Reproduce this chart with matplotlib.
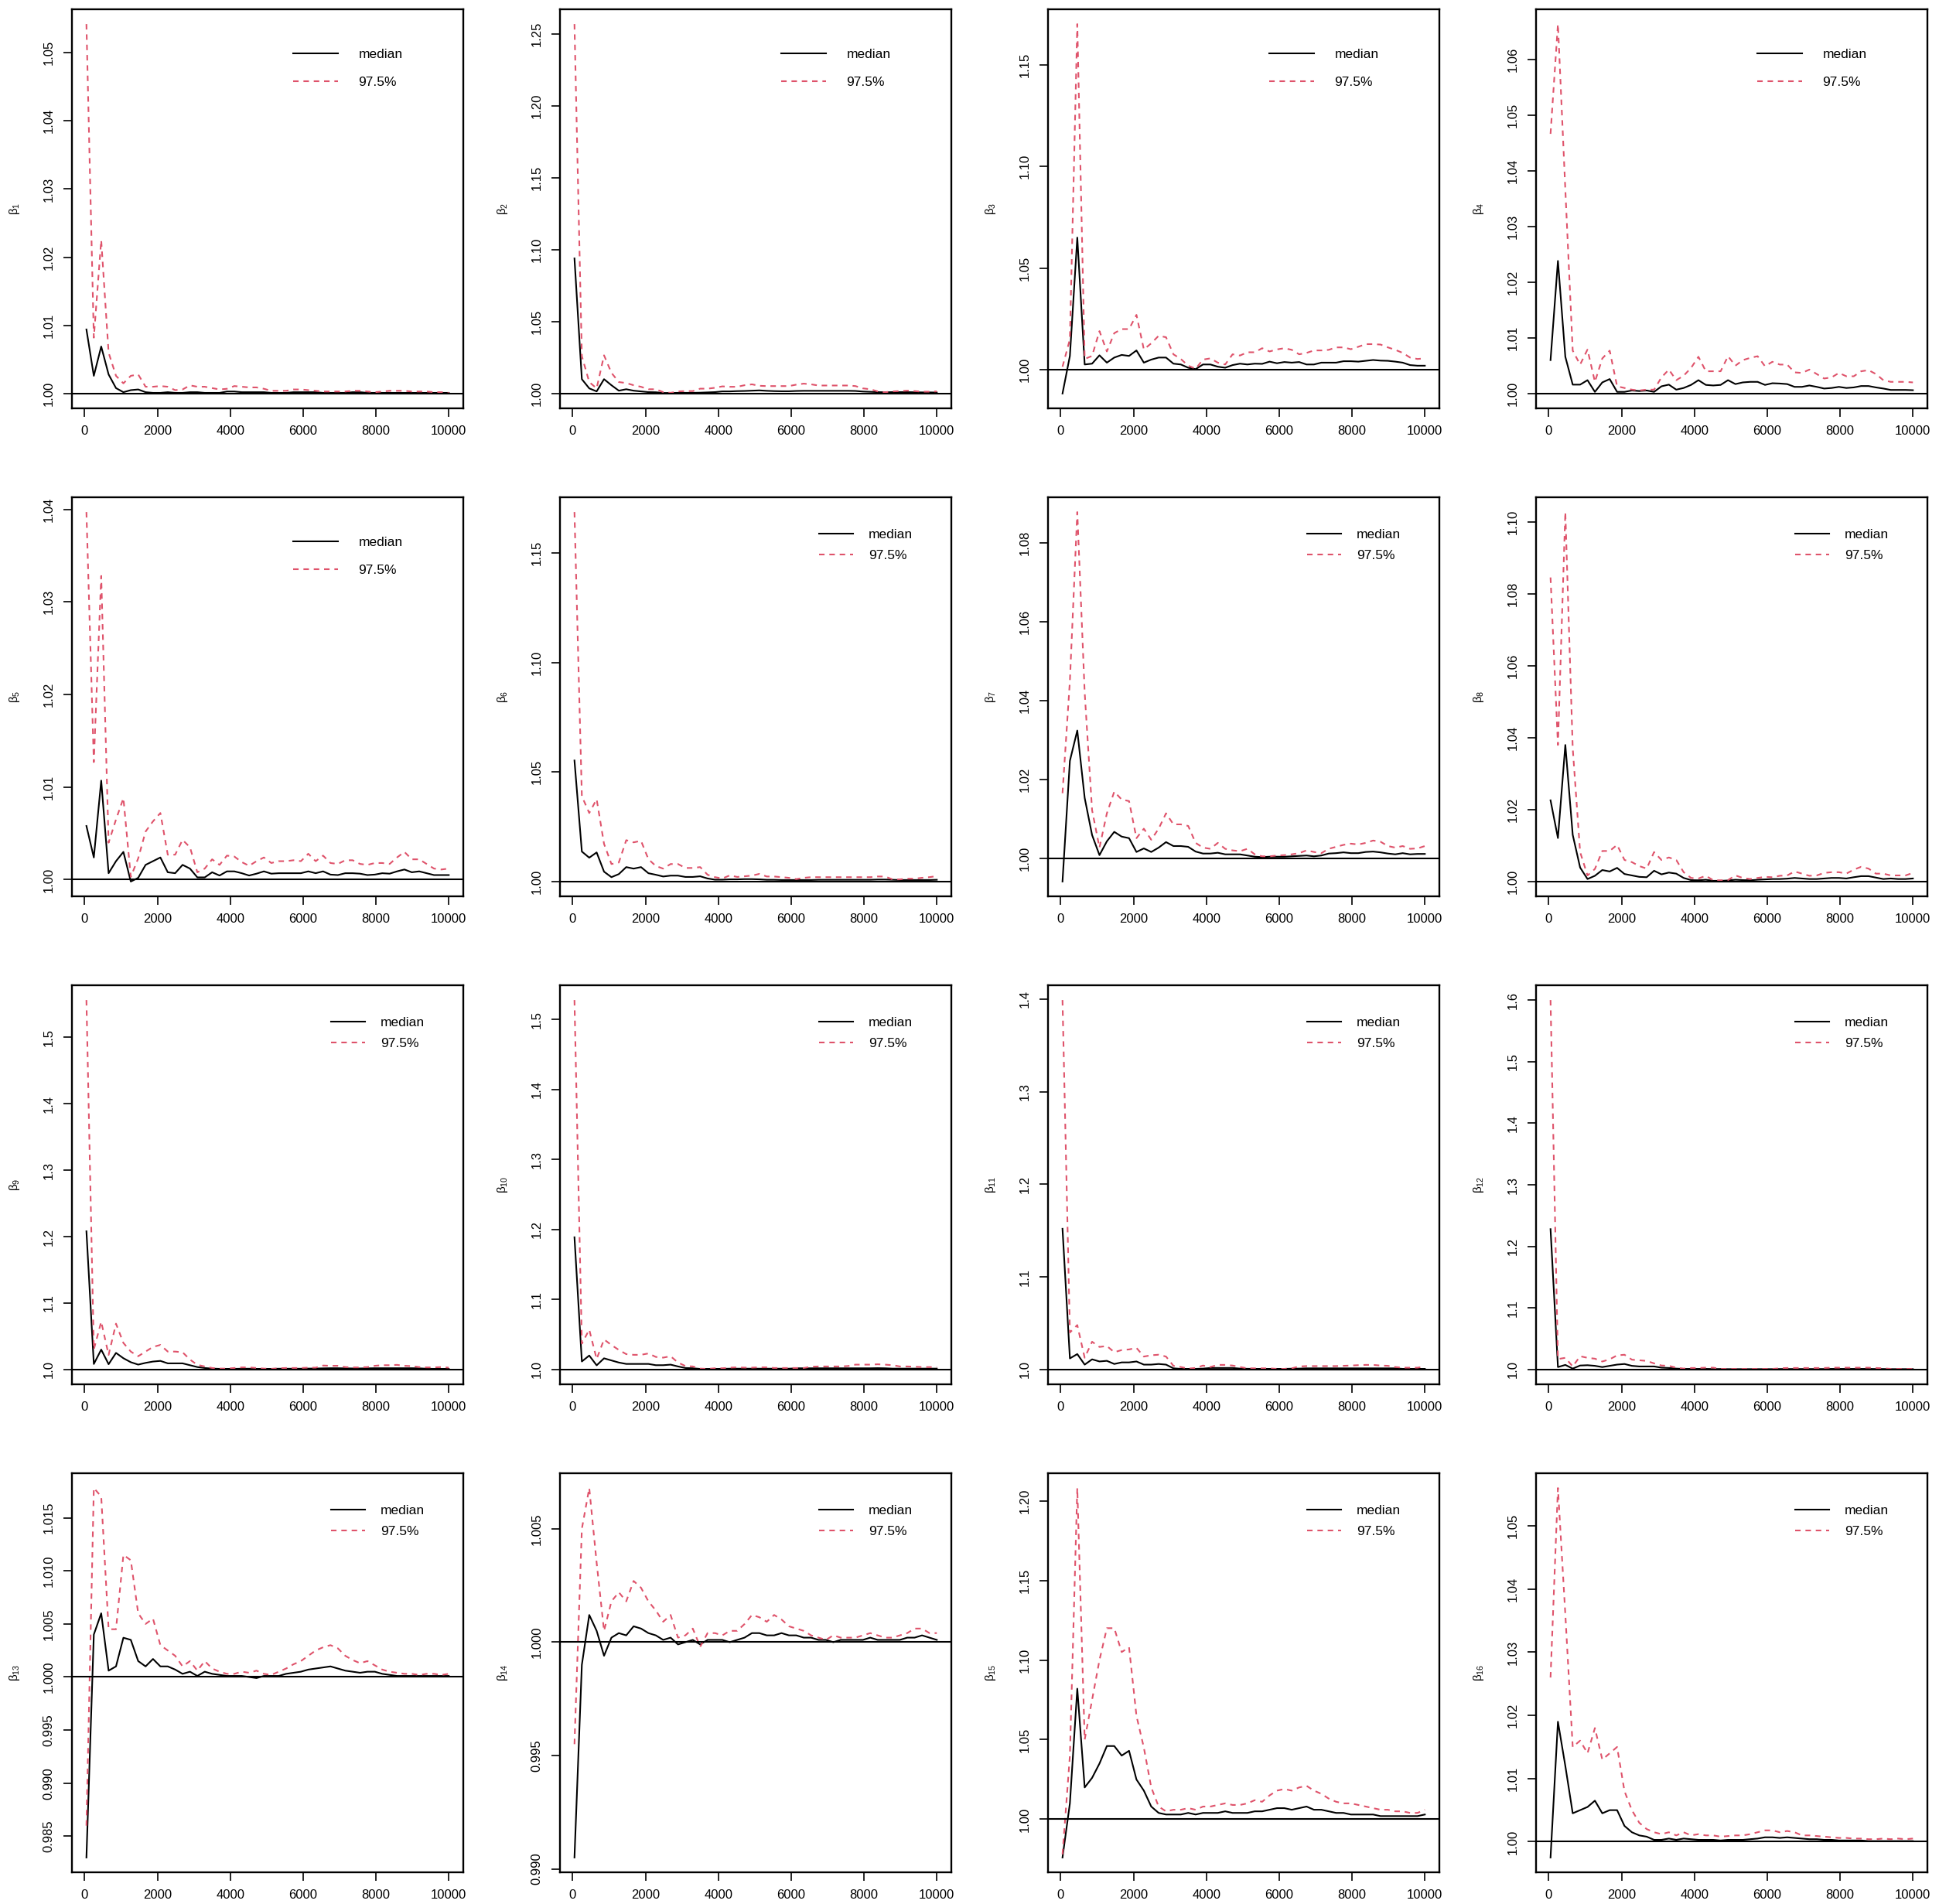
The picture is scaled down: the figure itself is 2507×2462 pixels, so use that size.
import numpy as np
import matplotlib
matplotlib.use("Agg")
import matplotlib.pyplot as plt

plt.rcParams['font.family'] = ['Liberation Sans', 'DejaVu Sans']

# last iteration of each bin (x axis)
iterations = np.linspace(50, 10000, 50)

# shrink factor, median and 97.5% quantile, one pair per coefficient
med1 = [1.0094, 1.0026, 1.0069, 1.0028, 1.0008, 1.0002, 1.0005, 1.0006, 1.0002, 1.0001,
        1.0001, 1.0002, 1.0001, 1.0001, 1.0002, 1.0002, 1.0001, 1.0001, 1.0001, 1.0003,
        1.0003, 1.0002, 1.0002, 1.0002, 1.0002, 1.0001, 1.0001, 1.0001, 1.0002, 1.0002,
        1.0002, 1.0002, 1.0001, 1.0001, 1.0001, 1.0001, 1.0002, 1.0002, 1.0001, 1.0001,
        1.0001, 1.0001, 1.0001, 1.0001, 1.0001, 1.0001, 1.0001, 1.0001, 1.0001, 1.0001]
upp1 = [1.0542, 1.0082, 1.0225, 1.0060, 1.0026, 1.0015, 1.0026, 1.0028, 1.0010, 1.0010,
        1.0011, 1.0010, 1.0005, 1.0006, 1.0012, 1.0010, 1.0010, 1.0008, 1.0006, 1.0007,
        1.0011, 1.0010, 1.0009, 1.0009, 1.0007, 1.0004, 1.0004, 1.0004, 1.0006, 1.0006,
        1.0005, 1.0004, 1.0003, 1.0003, 1.0003, 1.0003, 1.0004, 1.0004, 1.0003, 1.0002,
        1.0003, 1.0004, 1.0004, 1.0004, 1.0003, 1.0003, 1.0003, 1.0002, 1.0002, 1.0001]

med2 = [1.094, 1.010, 1.0036, 1.0015, 1.010, 1.0058, 1.002, 1.003, 1.002, 1.0015,
        1.001, 1.0009, 1.0004, 1.0004, 1.0005, 1.0005, 1.0005, 1.0006, 1.0008, 1.0010,
        1.0015, 1.0015, 1.0017, 1.0018, 1.0020, 1.0022, 1.0019, 1.0017, 1.0016, 1.0016,
        1.0018, 1.0019, 1.0019, 1.0019, 1.0019, 1.0019, 1.0019, 1.0019, 1.0018, 1.0014,
        1.0012, 1.0010, 1.0009, 1.0010, 1.0010, 1.0010, 1.0009, 1.0008, 1.0008, 1.0007]
upp2 = [1.257, 1.026, 1.008, 1.0036, 1.0266, 1.0144, 1.008, 1.0073, 1.0058, 1.0047,
        1.003, 1.003, 1.001, 1.0005, 1.0015, 1.0017, 1.0017, 1.0034, 1.0034, 1.004,
        1.005, 1.0047, 1.0047, 1.0058, 1.0064, 1.0054, 1.0052, 1.0052, 1.0052, 1.0052,
        1.0062, 1.0069, 1.0064, 1.0056, 1.0056, 1.0056, 1.0056, 1.0056, 1.0052, 1.0036,
        1.003, 1.0015, 1.0009, 1.0015, 1.0017, 1.002, 1.0017, 1.0013, 1.0013, 1.0015]

med3 = [0.9883, 1.0068, 1.065, 1.0026, 1.003, 1.0071, 1.0035, 1.006, 1.0073, 1.0068,
        1.0095, 1.0035, 1.005, 1.006, 1.006, 1.003, 1.0026, 1.001, 1.0003, 1.0026,
        1.0026, 1.0015, 1.001, 1.0023, 1.003, 1.0026, 1.003, 1.0029, 1.004, 1.0032,
        1.0038, 1.0035, 1.0038, 1.0026, 1.0026, 1.0035, 1.0035, 1.0035, 1.0042, 1.0042,
        1.004, 1.0044, 1.0048, 1.0045, 1.0044, 1.004, 1.0035, 1.0023, 1.002, 1.002]
upp3 = [1.0015, 1.015, 1.170, 1.0053, 1.0068, 1.019, 1.009, 1.018, 1.020, 1.020,
        1.027, 1.010, 1.013, 1.0167, 1.016, 1.0076, 1.0053, 1.002, 1.0005, 1.005,
        1.0056, 1.0035, 1.0026, 1.0076, 1.007, 1.0086, 1.0086, 1.0106, 1.009, 1.010,
        1.0106, 1.0098, 1.0076, 1.0083, 1.0095, 1.0095, 1.0098, 1.011, 1.011, 1.0101,
        1.0113, 1.0126, 1.0126, 1.0124, 1.011, 1.0098, 1.0083, 1.006, 1.0053, 1.0056]

med4 = [1.006, 1.0238, 1.0066, 1.0016, 1.0016, 1.0024, 1.0003, 1.0020, 1.0026, 1.0003,
        1.0003, 1.00055, 1.00045, 1.00055, 1.0003, 1.0013, 1.0016, 1.0007, 1.0010, 1.00155,
        1.0024, 1.00155, 1.00145, 1.00155, 1.0024, 1.0017, 1.0020, 1.0021, 1.0021, 1.00155,
        1.00185, 1.0018, 1.0017, 1.0012, 1.0012, 1.00145, 1.0012, 1.0009, 1.0010, 1.0012,
        1.0010, 1.0011, 1.00135, 1.00135, 1.0011, 1.0009, 1.00065, 1.00065, 1.00065, 1.0006]
upp4 = [1.0466, 1.0663, 1.0366, 1.0077, 1.0052, 1.0079, 1.0021, 1.0063, 1.0077, 1.0013,
        1.0010, 1.0007, 1.00055, 1.0007, 1.0007, 1.0029, 1.0043, 1.0024, 1.0032, 1.0046,
        1.0066, 1.0040, 1.0040, 1.0040, 1.0067, 1.0050, 1.0060, 1.0064, 1.0067, 1.0049,
        1.0057, 1.0052, 1.0052, 1.0038, 1.0037, 1.0043, 1.0035, 1.0027, 1.0029, 1.0037,
        1.0031, 1.0031, 1.0040, 1.0042, 1.0035, 1.0024, 1.0021, 1.0021, 1.0021, 1.0020]

med5 = [1.0058, 1.0024, 1.0107, 1.0007, 1.0020, 1.0030, 0.9998, 1.0002, 1.0016, 1.0020,
        1.0024, 1.0008, 1.0007, 1.0016, 1.0012, 1.00025, 1.00025, 1.0008, 1.00045, 1.0009,
        1.0009, 1.0007, 1.00045, 1.00065, 1.0009, 1.00065, 1.0007, 1.0007, 1.0007, 1.0007,
        1.0009, 1.0007, 1.0009, 1.00055, 1.0005, 1.0007, 1.0007, 1.00065, 1.0005, 1.00055,
        1.0007, 1.00065, 1.0009, 1.0011, 1.0008, 1.0009, 1.0007, 1.0005, 1.0005, 1.0005]
upp5 = [1.0397, 1.0127, 1.0328, 1.0040, 1.0065, 1.0088, 1.0003, 1.0023, 1.0052, 1.0063,
        1.0072, 1.0027, 1.0027, 1.0043, 1.0035, 1.0008, 1.0012, 1.0022, 1.0016, 1.0026,
        1.0025, 1.0019, 1.0015, 1.0020, 1.0024, 1.0018, 1.0020, 1.0020, 1.0021, 1.0020,
        1.0028, 1.0020, 1.0026, 1.0018, 1.0017, 1.0021, 1.0021, 1.0017, 1.0016, 1.0018,
        1.0018, 1.0017, 1.0024, 1.0030, 1.0022, 1.0022, 1.0017, 1.0012, 1.0011, 1.0012]

med6 = [1.0553, 1.0137, 1.0109, 1.0133, 1.0045, 1.0020, 1.0034, 1.0066, 1.0059, 1.0066,
        1.0038, 1.0031, 1.0023, 1.0027, 1.0027, 1.0021, 1.0021, 1.0024, 1.0014, 1.00085,
        1.00085, 1.0010, 1.0010, 1.0011, 1.0011, 1.0010, 1.0008, 1.0008, 1.0007, 1.0007,
        1.0007, 1.0007, 1.0007, 1.0008, 1.0008, 1.0008, 1.0008, 1.0008, 1.0008, 1.0008,
        1.0008, 1.0009, 1.0009, 1.0008, 1.0007, 1.0007, 1.0007, 1.0007, 1.0007, 1.0008]
upp6 = [1.1688, 1.039, 1.0313, 1.0376, 1.0172, 1.0080, 1.0087, 1.0189, 1.0179, 1.0186,
        1.0102, 1.0071, 1.0059, 1.0080, 1.0080, 1.0062, 1.0062, 1.0066, 1.0031, 1.0020,
        1.0014, 1.0028, 1.0021, 1.0024, 1.0027, 1.0035, 1.0023, 1.0023, 1.0020, 1.0017,
        1.0011, 1.0017, 1.0020, 1.0020, 1.0020, 1.0020, 1.0020, 1.0020, 1.0020, 1.0020,
        1.0020, 1.0023, 1.0023, 1.0010, 1.0010, 1.0013, 1.0013, 1.0017, 1.0020, 1.0025]

med7 = [0.9941, 1.0247, 1.0324, 1.0153, 1.0059, 1.0008, 1.0043, 1.0067, 1.0055, 1.0051,
        1.0016, 1.0025, 1.0016, 1.0027, 1.0041, 1.0031, 1.0031, 1.0029, 1.0017, 1.0012,
        1.0012, 1.0014, 1.0010, 1.0010, 1.0010, 1.0007, 1.0004, 1.0003, 1.0004, 1.0004,
        1.0004, 1.0005, 1.0006, 1.0007, 1.0005, 1.0007, 1.0012, 1.0013, 1.0015, 1.0013,
        1.0013, 1.0016, 1.0017, 1.0015, 1.0012, 1.0010, 1.0013, 1.0010, 1.0011, 1.0011]
upp7 = [1.0165, 1.045, 1.0878, 1.042, 1.0122, 1.0027, 1.0114, 1.0169, 1.0149, 1.0145,
        1.0051, 1.0075, 1.0047, 1.0075, 1.0114, 1.0086, 1.0086, 1.0082, 1.0039, 1.0027,
        1.0024, 1.0039, 1.0024, 1.0020, 1.0018, 1.0024, 1.0010, 1.0005, 1.0005, 1.0007,
        1.0008, 1.0010, 1.0013, 1.0020, 1.0016, 1.0013, 1.0024, 1.0029, 1.0034, 1.0037,
        1.0035, 1.0039, 1.0045, 1.0042, 1.0031, 1.0027, 1.0031, 1.0024, 1.0025, 1.0031]

med8 = [1.0226, 1.0121, 1.0380, 1.0130, 1.0039, 1.0007, 1.0016, 1.0032, 1.0028, 1.0038,
        1.0021, 1.0017, 1.0013, 1.0012, 1.0030, 1.0020, 1.0025, 1.0022, 1.0010, 1.0004,
        1.00035, 1.0005, 1.0002, 1.0002, 1.0003, 1.0005, 1.0004, 1.00035, 1.0005, 1.0006,
        1.0007, 1.0007, 1.0008, 1.0010, 1.00085, 1.0007, 1.0007, 1.00085, 1.0010, 1.0010,
        1.00085, 1.0012, 1.0015, 1.0015, 1.0011, 1.0007, 1.00085, 1.0007, 1.0007, 1.00085]
upp8 = [1.0846, 1.0380, 1.1028, 1.0371, 1.0082, 1.0017, 1.0035, 1.0085, 1.0085, 1.0102,
        1.0060, 1.0054, 1.0043, 1.0036, 1.0082, 1.0060, 1.0067, 1.0060, 1.0026, 1.0010,
        1.00085, 1.0016, 1.00035, 1.00035, 1.0004, 1.0017, 1.0010, 1.0007, 1.0010, 1.0013,
        1.0012, 1.0016, 1.0017, 1.0028, 1.0022, 1.0016, 1.0017, 1.0024, 1.0026, 1.0026,
        1.0022, 1.0033, 1.0041, 1.0036, 1.0022, 1.0022, 1.0017, 1.0017, 1.0017, 1.0024]

med9 = [1.208, 1.0083, 1.030, 1.008, 1.025, 1.017, 1.011, 1.0074, 1.010, 1.012,
        1.013, 1.0093, 1.0093, 1.0093, 1.0065, 1.0037, 1.0023, 1.0014, 1.0010, 1.0010,
        1.0010, 1.0012, 1.0012, 1.0010, 1.0010, 1.0010, 1.0012, 1.0012, 1.0012, 1.0012,
        1.0014, 1.0015, 1.0018, 1.0020, 1.0020, 1.0018, 1.0016, 1.0016, 1.0018, 1.0020,
        1.0020, 1.0020, 1.0020, 1.0020, 1.0020, 1.0018, 1.0012, 1.0010, 1.0010, 1.0010]
upp9 = [1.556, 1.030, 1.072, 1.022, 1.069, 1.040, 1.027, 1.020, 1.027, 1.034,
        1.037, 1.027, 1.027, 1.026, 1.015, 1.007, 1.0046, 1.0023, 1.0014, 1.0014,
        1.0023, 1.0032, 1.0032, 1.0023, 1.0014, 1.0010, 1.0019, 1.0023, 1.0023, 1.0023,
        1.0028, 1.0028, 1.0060, 1.0056, 1.0056, 1.0037, 1.0032, 1.0032, 1.0037, 1.0056,
        1.0065, 1.0065, 1.0070, 1.0056, 1.0051, 1.0037, 1.0032, 1.0032, 1.0037, 1.0028]

med10 = [1.189, 1.0115, 1.020, 1.006, 1.016, 1.013, 1.010, 1.008, 1.008, 1.008,
         1.008, 1.0062, 1.0062, 1.007, 1.0044, 1.0022, 1.0018, 1.0009, 1.0009, 1.0009,
         1.0010, 1.0012, 1.0012, 1.0012, 1.0012, 1.0012, 1.0012, 1.0012, 1.0012, 1.0012,
         1.0018, 1.0018, 1.0018, 1.0018, 1.0018, 1.0018, 1.0018, 1.0018, 1.0018, 1.0018,
         1.0018, 1.0020, 1.0018, 1.0013, 1.0013, 1.0013, 1.0013, 1.0013, 1.0013, 1.0013]
upp10 = [1.528, 1.037, 1.057, 1.015, 1.043, 1.035, 1.028, 1.022, 1.021, 1.021,
         1.023, 1.018, 1.017, 1.019, 1.010, 1.005, 1.0044, 1.0013, 1.0009, 1.0018,
         1.0018, 1.0027, 1.0031, 1.0027, 1.0027, 1.0031, 1.0031, 1.0022, 1.0022, 1.0022,
         1.0022, 1.0022, 1.0040, 1.0044, 1.0044, 1.0044, 1.0044, 1.0050, 1.0070, 1.0070,
         1.0070, 1.0075, 1.0070, 1.0062, 1.0044, 1.0044, 1.0040, 1.0035, 1.0035, 1.0035]

med11 = [1.152, 1.012, 1.0167, 1.0053, 1.011, 1.0087, 1.0094, 1.006, 1.0077, 1.0077,
         1.0087, 1.0053, 1.0053, 1.006, 1.0053, 1.0013, 1.0007, 1.0007, 1.0007, 1.0010,
         1.0017, 1.0017, 1.0017, 1.0017, 1.0010, 1.0008, 1.0007, 1.0007, 1.0007, 1.0007,
         1.0007, 1.0009, 1.0010, 1.0013, 1.0013, 1.0013, 1.0013, 1.0013, 1.0013, 1.0013,
         1.0013, 1.0013, 1.0013, 1.0013, 1.0013, 1.0013, 1.0007, 1.0007, 1.0007, 1.0007]
upp11 = [1.399, 1.040, 1.048, 1.0127, 1.030, 1.0244, 1.0254, 1.0187, 1.021, 1.0217,
         1.0234, 1.014, 1.0154, 1.016, 1.014, 1.004, 1.0027, 1.001, 1.0017, 1.0043,
         1.0027, 1.005, 1.005, 1.0043, 1.0027, 1.0013, 1.0013, 1.0013, 1.0013, 1.0007,
         1.0007, 1.0013, 1.0033, 1.0037, 1.0037, 1.0037, 1.0037, 1.0037, 1.0040, 1.0043,
         1.0047, 1.005, 1.005, 1.0043, 1.0040, 1.0027, 1.0020, 1.0020, 1.0020, 1.0033]

med12 = [1.228, 1.004, 1.0075, 1.0015, 1.0065, 1.007, 1.006, 1.004, 1.006, 1.008,
         1.009, 1.006, 1.005, 1.005, 1.005, 1.003, 1.0025, 1.0015, 1.0010, 1.0010,
         1.0010, 1.0010, 1.0008, 1.0008, 1.0006, 1.0006, 1.0006, 1.0006, 1.0006, 1.0006,
         1.0006, 1.0008, 1.0008, 1.0008, 1.0008, 1.0008, 1.0008, 1.0008, 1.0010, 1.0010,
         1.0010, 1.0010, 1.0010, 1.0010, 1.0008, 1.0008, 1.0006, 1.0006, 1.0006, 1.0006]
upp12 = [1.600, 1.017, 1.019, 1.005, 1.0216, 1.019, 1.0176, 1.013, 1.0166, 1.023,
         1.024, 1.016, 1.015, 1.014, 1.010, 1.0065, 1.006, 1.003, 1.0015, 1.0025,
         1.0025, 1.003, 1.003, 1.001, 1.001, 1.001, 1.001, 1.001, 1.001, 1.001,
         1.001, 1.002, 1.0025, 1.0025, 1.0025, 1.0025, 1.0025, 1.0025, 1.003, 1.003,
         1.003, 1.003, 1.003, 1.003, 1.0025, 1.002, 1.001, 1.001, 1.001, 1.001]

med13 = [0.9830, 1.0040, 1.0060, 1.0006, 1.0010, 1.0037, 1.0035, 1.0015, 1.0010, 1.0017,
         1.0010, 1.0010, 1.0007, 1.0003, 1.0005, 1.0001, 1.0005, 1.0003, 1.0002, 1.0001,
         1.0001, 1.0001, 1.0000, 0.9999, 1.0001, 1.0001, 1.0001, 1.0003, 1.0004, 1.0005,
         1.0007, 1.0008, 1.0009, 1.0010, 1.0008, 1.0006, 1.0005, 1.0004, 1.0005, 1.0005,
         1.0003, 1.0002, 1.0001, 1.0001, 1.0001, 1.0001, 1.0001, 1.0001, 1.0001, 1.0001]
upp13 = [0.9860, 1.0178, 1.0170, 1.0045, 1.0045, 1.0115, 1.0110, 1.0060, 1.0050, 1.0055,
         1.0030, 1.0025, 1.0020, 1.0010, 1.0015, 1.0006, 1.0015, 1.0008, 1.0005, 1.0003,
         1.0003, 1.0005, 1.0004, 1.0006, 1.0003, 1.0002, 1.0005, 1.0008, 1.0012, 1.0015,
         1.0020, 1.0025, 1.0028, 1.0030, 1.0027, 1.0020, 1.0016, 1.0013, 1.0015, 1.0011,
         1.0007, 1.0005, 1.0004, 1.0003, 1.0003, 1.0002, 1.0003, 1.0003, 1.0002, 1.0003]

med14 = [0.9905, 0.9990, 1.0012, 1.0005, 0.9994, 1.0002, 1.0004, 1.0003, 1.0007, 1.0006,
         1.0004, 1.0003, 1.0001, 1.0002, 0.9999, 1.0000, 1.0001, 0.9999, 1.0001, 1.0001,
         1.0001, 1.0000, 1.0001, 1.0002, 1.0004, 1.0004, 1.0003, 1.0003, 1.0004, 1.0003,
         1.0003, 1.0002, 1.0002, 1.0001, 1.0001, 1.0000, 1.0001, 1.0001, 1.0001, 1.0001,
         1.0002, 1.0001, 1.0001, 1.0001, 1.0001, 1.0002, 1.0002, 1.0003, 1.0002, 1.0001]
upp14 = [0.9955, 1.0050, 1.0068, 1.0035, 1.0005, 1.0018, 1.0022, 1.0018, 1.0027, 1.0024,
         1.0018, 1.0014, 1.0009, 1.0012, 1.0002, 1.0003, 1.0006, 0.9998, 1.0004, 1.0004,
         1.0003, 1.0005, 1.0005, 1.0008, 1.0012, 1.0011, 1.0009, 1.0012, 1.0010, 1.0007,
         1.0006, 1.0005, 1.0003, 1.0002, 1.0001, 1.0003, 1.0002, 1.0002, 1.0002, 1.0003,
         1.0004, 1.0003, 1.0002, 1.0002, 1.0003, 1.0004, 1.0006, 1.0006, 1.0004, 1.0004]

med15 = [0.976, 1.010, 1.082, 1.020, 1.026, 1.035, 1.046, 1.046, 1.040, 1.043,
         1.025, 1.018, 1.008, 1.004, 1.003, 1.003, 1.003, 1.004, 1.003, 1.004,
         1.004, 1.004, 1.005, 1.004, 1.004, 1.004, 1.005, 1.005, 1.006, 1.007,
         1.007, 1.006, 1.007, 1.008, 1.006, 1.006, 1.005, 1.004, 1.004, 1.003,
         1.003, 1.003, 1.003, 1.002, 1.002, 1.002, 1.002, 1.002, 1.002, 1.003]
upp15 = [0.978, 1.040, 1.208, 1.050, 1.075, 1.100, 1.120, 1.120, 1.105, 1.108,
         1.065, 1.045, 1.020, 1.008, 1.005, 1.006, 1.006, 1.007, 1.006, 1.008,
         1.008, 1.009, 1.010, 1.009, 1.009, 1.010, 1.012, 1.011, 1.015, 1.018,
         1.019, 1.018, 1.020, 1.021, 1.018, 1.016, 1.013, 1.011, 1.010, 1.010,
         1.009, 1.008, 1.007, 1.006, 1.006, 1.005, 1.005, 1.004, 1.004, 1.006]

med16 = [0.9975, 1.0190, 1.0120, 1.0045, 1.0050, 1.0055, 1.0065, 1.0045, 1.0050, 1.0050,
         1.0025, 1.0015, 1.0010, 1.0008, 1.0003, 1.0003, 1.0005, 1.0003, 1.0005, 1.0004,
         1.0003, 1.0003, 1.0003, 1.0002, 1.0003, 1.0003, 1.0003, 1.0004, 1.0005, 1.0007,
         1.0007, 1.0006, 1.0007, 1.0006, 1.0005, 1.0004, 1.0004, 1.0003, 1.0003, 1.0002,
         1.0002, 1.0002, 1.0002, 1.0001, 1.0001, 1.0001, 1.0001, 1.0001, 1.0001, 1.0001]
upp16 = [1.0260, 1.0560, 1.0360, 1.0150, 1.0160, 1.0140, 1.0180, 1.0130, 1.0140, 1.0150,
         1.0080, 1.0050, 1.0030, 1.0020, 1.0015, 1.0012, 1.0015, 1.0010, 1.0015, 1.0010,
         1.0012, 1.0010, 1.0010, 1.0008, 1.0009, 1.0010, 1.0010, 1.0012, 1.0015, 1.0018,
         1.0018, 1.0015, 1.0017, 1.0015, 1.0010, 1.0010, 1.0009, 1.0008, 1.0007, 1.0006,
         1.0006, 1.0005, 1.0005, 1.0004, 1.0004, 1.0005, 1.0004, 1.0005, 1.0004, 1.0005]

medians = [med1, med2, med3, med4, med5, med6, med7, med8,
           med9, med10, med11, med12, med13, med14, med15, med16]
uppers = [upp1, upp2, upp3, upp4, upp5, upp6, upp7, upp8,
          upp9, upp10, upp11, upp12, upp13, upp14, upp15, upp16]

# y ticks per panel and number of decimals in their labels
yticks = [
    ([1.00, 1.01, 1.02, 1.03, 1.04, 1.05], 2),
    ([1.00, 1.05, 1.10, 1.15, 1.20, 1.25], 2),
    ([1.00, 1.05, 1.10, 1.15], 2),
    ([1.00, 1.01, 1.02, 1.03, 1.04, 1.05, 1.06], 2),
    ([1.00, 1.01, 1.02, 1.03, 1.04], 2),
    ([1.00, 1.05, 1.10, 1.15], 2),
    ([1.00, 1.02, 1.04, 1.06, 1.08], 2),
    ([1.00, 1.02, 1.04, 1.06, 1.08, 1.10], 2),
    ([1.0, 1.1, 1.2, 1.3, 1.4, 1.5], 1),
    ([1.0, 1.1, 1.2, 1.3, 1.4, 1.5], 1),
    ([1.0, 1.1, 1.2, 1.3, 1.4], 1),
    ([1.0, 1.1, 1.2, 1.3, 1.4, 1.5, 1.6], 1),
    ([0.985, 0.990, 0.995, 1.000, 1.005, 1.010, 1.015], 3),
    ([0.990, 0.995, 1.000, 1.005], 3),
    ([1.00, 1.05, 1.10, 1.15, 1.20], 2),
    ([1.00, 1.01, 1.02, 1.03, 1.04, 1.05], 2),
]
xticks = [0, 2000, 4000, 6000, 8000, 10000]

RED = '#DF536B'
W, H = 2507, 2462

fig = plt.figure(figsize=(W / 100, H / 100), dpi=100)

for i in range(16):
    r, c = divmod(i, 4)
    left = 93 + 631 * c
    top = 12 + 631 * r
    ax = fig.add_axes([left / W, 1 - (top + 516) / H, 506 / W, 516 / H])

    ax.plot(iterations, medians[i], color='black', lw=1.5, label='median')
    ax.plot(iterations, uppers[i], color=RED, lw=1.5, dashes=(3.4, 3.0), label='97.5%')
    ax.axhline(1, color='black', lw=1.5)
    ax.margins(x=0.04, y=0.04)

    ticks, dec = yticks[i]
    ax.set_xticks(xticks)
    ax.set_xticklabels([str(t) for t in xticks])
    ax.set_yticks(ticks)
    ax.set_yticklabels([f"{t:.{dec}f}" for t in ticks], rotation=90, va='center')
    ax.tick_params(direction='out', length=8, width=1.2, pad=8, labelsize=12)
    for s in ax.spines.values():
        s.set_linewidth(1.7)

    ax.text(-74 / 506, 0.5, r'$\mathregular{\beta_{%d}}$' % (i + 1), transform=ax.transAxes,
            rotation=90, ha='center', va='center', fontsize=11)

    if i < 5:
        ax.legend(loc='upper left', bbox_to_anchor=(0.565, 1 - 51 / 516), frameon=False,
                  borderpad=0, borderaxespad=0, handlelength=3.33, handletextpad=1.55,
                  labelspacing=1.2, fontsize=12.5)
    else:
        ax.legend(loc='upper left', bbox_to_anchor=(0.662, 1 - 41 / 516), frameon=False,
                  borderpad=0, borderaxespad=0, handlelength=2.53, handletextpad=1.15,
                  labelspacing=0.7, fontsize=12.5)

fig.savefig('out.png', dpi=100)
